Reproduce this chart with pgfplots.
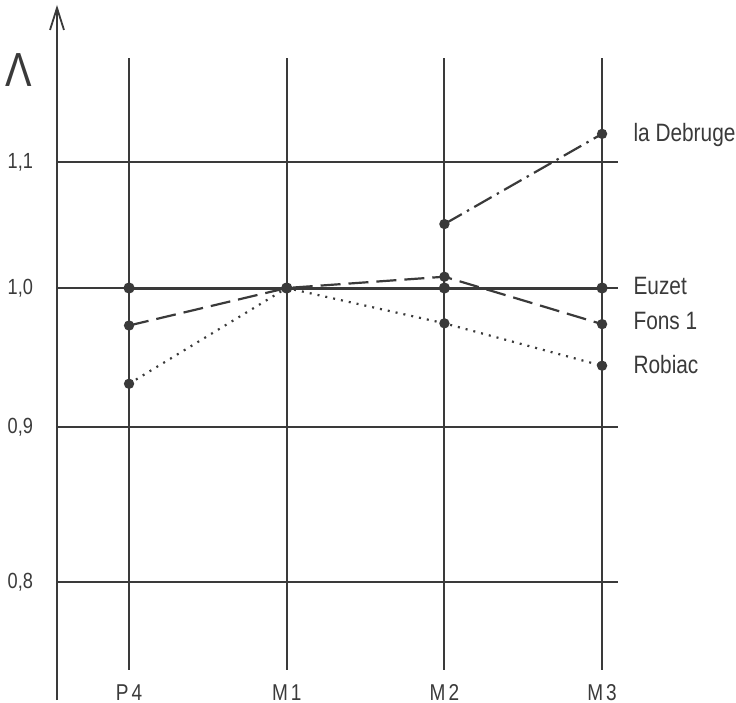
\documentclass[border=0pt]{standalone}
\usepackage{fontspec}
\setmainfont{Liberation Sans}[FakeStretch=0.83]
\usepackage{pgfplots}
\pgfplotsset{compat=1.18}
\usetikzlibrary{arrows.meta}
\definecolor{ink}{RGB}{58,58,58}
\begin{document}
\begin{tikzpicture}
\useasboundingbox (0,0) rectangle (368bp,351.5bp);
\begin{axis}[
  at={(28.5bp,1.5bp)}, anchor=south west,
  scale only axis, width=280.5bp, height=347.5bp,
  ymode=log,
  xmin=-0.457, xmax=3.101, ymin=0.7318, ymax=1.2394,
  axis x line=none, axis y line=left,
  y axis line style={line width=1bp, draw=ink, -{Straight Barb[length=11bp,width=7bp,line width=0.9bp]}},
  ytick={0.8,0.9,1.0,1.1},
  yticklabels={{0,8},{0,9},{1,0},{1,1}},
  yminorticks=false,
  major tick length=0pt,
  ymajorgrids, grid style={line width=1bp, draw=ink},
  yticklabel style={font=\fontsize{11}{12}\selectfont, text=ink, xshift=-8.5bp},
  /pgf/number format/assume math mode=true,
  clip=false,
]
\pgfplotsinvokeforeach{0,1,2,3}{\draw[ink, line width=1bp] (axis cs:#1,1.1905) -- (axis cs:#1,0.7485);}

% Euzet
\addplot[ink, line width=1.5bp, mark=*, mark size=2bp, mark options={solid, fill=ink}]
  coordinates {(0,1.0) (1,1.0) (2,1.0) (3,1.0)};
% Fons 1
\addplot[ink, line width=1.1bp, dash pattern=on 10bp off 4bp, mark=*, mark size=2bp, mark options={solid, fill=ink}]
  coordinates {(0,0.972) (1,1.0) (2,1.0086) (3,0.973)};
% Robiac
\addplot[ink, line width=1.1bp, dash pattern=on 1bp off 3bp, mark=*, mark size=2bp, mark options={solid, fill=ink}]
  coordinates {(0,0.930) (1,1.0) (2,0.9736) (3,0.9428)};
% la Debruge
\addplot[ink, line width=1.1bp, dash pattern=on 10bp off 3bp on 1.2bp off 3bp, mark=*, mark size=2bp, mark options={solid, fill=ink}]
  coordinates {(2,1.0497) (3,1.124)};

\node[anchor=base west, inner sep=0pt, text=ink, font=\fontsize{12.6}{14}\selectfont] at (axis cs:3.197,1.1179) {la Debruge};
\node[anchor=base west, inner sep=0pt, text=ink, font=\fontsize{12.6}{14}\selectfont] at (axis cs:3.197,0.99546) {Euzet};
\node[anchor=base west, inner sep=0pt, text=ink, font=\fontsize{12.6}{14}\selectfont] at (axis cs:3.197,0.9694) {Fons 1};
\node[anchor=base west, inner sep=0pt, text=ink, font=\fontsize{12.6}{14}\selectfont] at (axis cs:3.197,0.9376) {Robiac};

\node[anchor=base, inner sep=0pt, text=ink, font=\fontsize{11.5}{13}\selectfont] at (axis cs:0,0.7318) {P\kern1.5bp 4};
\node[anchor=base, inner sep=0pt, text=ink, font=\fontsize{11.5}{13}\selectfont] at (axis cs:1,0.7318) {M\kern1.5bp 1};
\node[anchor=base, inner sep=0pt, text=ink, font=\fontsize{11.5}{13}\selectfont] at (axis cs:2,0.7318) {M\kern1.5bp 2};
\node[anchor=base, inner sep=0pt, text=ink, font=\fontsize{11.5}{13}\selectfont] at (axis cs:3,0.7318) {M\kern1.5bp 3};

\node[anchor=center, inner sep=0pt, text=ink, font=\fontsize{24}{24}\selectfont] at (rel axis cs:-0.0677,0.9065) {Λ};
\end{axis}
\end{tikzpicture}
\end{document}
